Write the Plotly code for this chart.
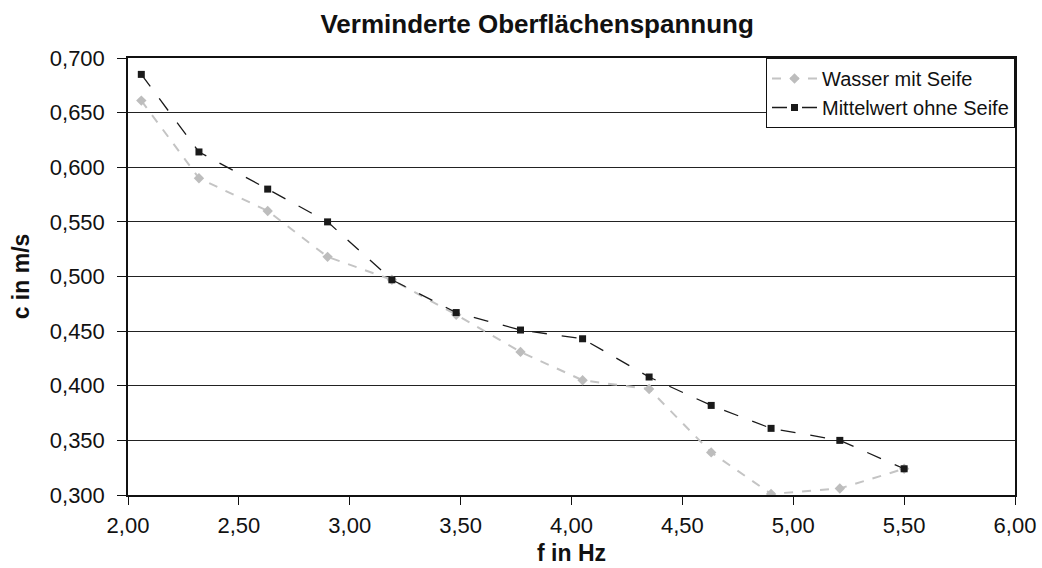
import plotly.graph_objects as go

# Frequenz der Welle (Hz) und gemessene Phasengeschwindigkeit (m/s)
freq_hz = [2.06, 2.32, 2.63, 2.90, 3.19, 3.48, 3.77, 4.05, 4.35, 4.63, 4.90, 5.21, 5.50]
c_mit_seife = [0.661, 0.590, 0.560, 0.518, 0.497, 0.465, 0.431, 0.405, 0.397, 0.339, 0.301, 0.306, 0.324]
c_ohne_seife = [0.685, 0.614, 0.580, 0.550, 0.497, 0.467, 0.451, 0.443, 0.408, 0.382, 0.361, 0.350, 0.324]

name_seife = "Wasser mit Seife"
name_ohne = "Mittelwert ohne Seife"
title_text = "Verminderte Oberflächenspannung"
x_title = "f in Hz"
y_title = "c in m/s"

FONT = "Liberation Sans, Arial, sans-serif"

fig = go.Figure()
fig.add_trace(go.Scatter(
    x=freq_hz, y=c_mit_seife, name=name_seife, mode="lines+markers",
    line=dict(color="#c4c4c4", width=2, dash="dash"),
    marker=dict(symbol="diamond", size=8, color="#bdbdbd"),
))
fig.add_trace(go.Scatter(
    x=freq_hz, y=c_ohne_seife, name=name_ohne, mode="lines+markers",
    line=dict(color="#1a1a1a", width=1.3, dash="longdash"),
    marker=dict(symbol="square", size=7, color="#1a1a1a"),
))

fig.update_layout(
    width=1042, height=568,
    margin=dict(l=128, r=27, t=58, b=73),
    paper_bgcolor="white", plot_bgcolor="white",
    font=dict(family=FONT, color="#111", size=22),
    separators=",.",
    title=dict(text=f"<b>{title_text}</b>", x=0.5155, xanchor="center",
               y=0.958, yanchor="middle", font=dict(size=26, family=FONT)),
    showlegend=True,
    legend=dict(x=1, y=1, xanchor="right", yanchor="top",
                bordercolor="#111", borderwidth=1, bgcolor="white",
                font=dict(size=20, family=FONT), itemwidth=45,
                tracegroupgap=0),
    xaxis=dict(
        range=[2.0, 6.0], dtick=0.5, tick0=2.0, tickformat=".2f",
        showgrid=False, zeroline=False, automargin=False,
        showline=True, linecolor="#111", linewidth=1.5, mirror=True,
        ticks="outside", ticklen=8, tickcolor="#111",
        ticklabelstandoff=2,
        title=dict(text=f"<b>{x_title}</b>", standoff=8, font=dict(size=23)),
    ),
    yaxis=dict(
        range=[0.3, 0.7], dtick=0.05, tick0=0.3, tickformat=".3f",
        showgrid=True, gridcolor="#222", gridwidth=1.3, zeroline=False,
        automargin=False,
        showline=True, linecolor="#111", linewidth=1.5, mirror=True,
        ticks="outside", ticklen=9, tickcolor="#111",
        ticklabelstandoff=8,
        title=dict(text=f"<b>{y_title}</b>", standoff=14, font=dict(size=23)),
    ),
)

fig.write_html("out.html")
